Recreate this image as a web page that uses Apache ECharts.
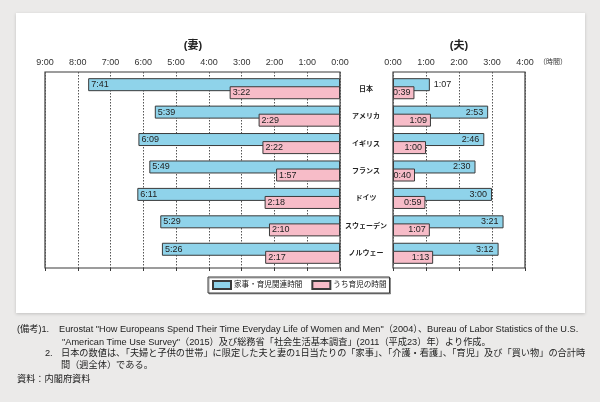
<!DOCTYPE html>
<html><head><meta charset="utf-8">
<script src="https://cdn.jsdelivr.net/npm/echarts@6/dist/echarts.min.js"></script>
<style>html,body{margin:0;padding:0;background:#ebeae9;}#c{width:600px;height:402px;}</style>
</head><body><div id="c"></div>
<script>
const categories = ['日本','アメリカ','イギリス','フランス','ドイツ','スウェーデン','ノルウェー'];
const wifeTotal = ['7:41','5:39','6:09','5:49','6:11','5:29','5:26'];
const wifeChild = ['3:22','2:29','2:22','1:57','2:18','2:10','2:17'];
const husbandTotal = ['1:07','2:53','2:46','2:30','3:00','3:21','3:12'];
const husbandChild = ['0:39','1:09','1:00','0:40','0:59','1:07','1:13'];
const seriesNames = ['家事・育児関連時間','うち育児の時間'];
const wifeMaxHours = 9;
const husbandMaxHours = 4;
const titles = ['(妻)','(夫)','（時間）'];
const notes = [
  '(備考)1.',
  'Eurostat "How Europeans Spend Their Time Everyday Life of Women and Men"（2004）、Bureau of Labor Statistics of the U.S.',
  '"American Time Use Survey"（2015）及び総務省「社会生活基本調査」(2011（平成23）年）より作成。',
  '2.',
  '日本の数値は、「夫婦と子供の世帯」に限定した夫と妻の1日当たりの「家事」、「介護・看護」、「育児」及び「買い物」の合計時',
  '間（週全体）である。',
  '資料：内閣府資料'
];

const FONT = "'Liberation Sans', 'Noto Sans CJK JP', sans-serif";
const BLUE = '#8fd3ea', PINK = '#f7bcc8', EDGE = '#3a3a3a';
const toHours = s => { const [h, m] = s.split(':').map(Number); return h + m / 60; };

const chart = echarts.init(document.getElementById('c'));

function barSeries(name, arr, axis, color, labelFn) {
  return {
    type: 'bar', name, xAxisIndex: axis, yAxisIndex: axis,
    barWidth: 13, barGap: '-38%',
    itemStyle: { color, borderColor: EDGE, borderWidth: 1 },
    data: arr.map((s, i) => ({ value: toHours(s), label: Object.assign({ formatter: s }, labelFn(s, i)) })),
    label: { show: true, fontSize: 9, color: '#222', fontFamily: FONT },
    emphasis: { disabled: true }, animation: false
  };
}

function frameAxis(grid, max, inverse) {
  return {
    type: 'value', gridIndex: grid, min: 0, max, interval: 1, inverse, position: 'top',
    axisLine: { show: false },
    axisTick: { show: true, inside: true, length: 3, lineStyle: { color: EDGE } },
    axisLabel: { formatter: v => v + ':00', fontSize: 9, color: '#333', margin: 5, fontFamily: FONT },
    splitLine: { show: true, lineStyle: { color: '#555', type: [1.5, 1.5], width: 1 } }
  };
}

const noteStyle = { fontSize: 9.2, fill: '#222', fontFamily: FONT };
function note(text, x, y) {
  return { type: 'text', x, y, style: Object.assign({ text, verticalAlign: 'middle' }, noteStyle), silent: true };
}

chart.setOption({
  backgroundColor: '#ebeae9',
  animation: false,
  textStyle: { fontFamily: FONT },
  graphic: [
    { type: 'rect', z: -100, shape: { x: 16, y: 13, width: 569, height: 300 },
      style: { fill: '#fff', shadowBlur: 3, shadowColor: 'rgba(0,0,0,0.18)', shadowOffsetY: 1 }, silent: true },
    { type: 'text', x: 193, y: 46, style: { text: titles[0], fontSize: 11, fontWeight: 'bold', fill: '#222', align: 'center', verticalAlign: 'middle', fontFamily: FONT } },
    { type: 'text', x: 459, y: 46, style: { text: titles[1], fontSize: 11, fontWeight: 'bold', fill: '#222', align: 'center', verticalAlign: 'middle', fontFamily: FONT } },
    { type: 'text', x: 539, y: 62, style: { text: titles[2], fontSize: 7, fill: '#333', verticalAlign: 'middle', fontFamily: FONT } },
    note(notes[0], 17, 329), note(notes[1], 59, 329), note(notes[2], 62, 342),
    note(notes[3], 45, 353), note(notes[4], 61, 353), note(notes[5], 61, 365),
    note(notes[6], 17, 379)
  ],
  legend: {
    data: seriesNames, top: 277, left: 208,
    itemWidth: 18, itemHeight: 8, itemGap: 9, icon: 'rect',
    textStyle: { fontSize: 7.6, color: '#222', fontFamily: FONT, padding: [0, 0, 0, -2] },
    backgroundColor: '#fff', borderColor: EDGE, borderWidth: 1, padding: [3, 3, 3, 4],
    shadowColor: 'rgba(0,0,0,0.35)', shadowOffsetX: 1, shadowOffsetY: 1, shadowBlur: 0,
    selectedMode: false
  },
  grid: [
    { left: 45, right: 260, top: 72, bottom: 134, show: true, borderColor: EDGE, borderWidth: 1.2, backgroundColor: '#fff' },
    { left: 45, right: 260, top: 75, bottom: 135 },
    { left: 393, right: 75, top: 72, bottom: 134, show: true, borderColor: EDGE, borderWidth: 1.2, backgroundColor: '#fff' },
    { left: 393, right: 75, top: 75, bottom: 135 }
  ],
  xAxis: [
    frameAxis(0, wifeMaxHours, true),
    { type: 'value', gridIndex: 1, min: 0, max: wifeMaxHours, inverse: true, show: false },
    frameAxis(2, husbandMaxHours, false),
    { type: 'value', gridIndex: 3, min: 0, max: husbandMaxHours, show: false }
  ],
  yAxis: [
    { type: 'value', gridIndex: 0, show: false, min: 0, max: 1 },
    { type: 'category', gridIndex: 1, data: categories, inverse: true, position: 'right',
      axisLine: { show: false }, axisTick: { show: false }, splitLine: { show: false },
      axisLabel: { align: 'center', margin: 26, fontSize: 7, fontWeight: 'bold', color: '#222', fontFamily: FONT } },
    { type: 'value', gridIndex: 2, show: false, min: 0, max: 1 },
    { type: 'category', gridIndex: 3, data: categories, inverse: true, show: false }
  ],
  series: [
    barSeries(seriesNames[0], wifeTotal, 1, BLUE, () => ({ position: 'insideLeft', distance: 3 })),
    barSeries(seriesNames[1], wifeChild, 1, PINK, () => ({ position: 'insideLeft', distance: 3 })),
    barSeries(seriesNames[0], husbandTotal, 3, BLUE, s => toHours(s) < 1.5 ? { position: 'right', distance: 4 } : { position: 'insideRight', distance: 5 }),
    barSeries(seriesNames[1], husbandChild, 3, PINK, () => ({ position: 'insideRight', distance: 4 }))
  ]
});
</script></body></html>
